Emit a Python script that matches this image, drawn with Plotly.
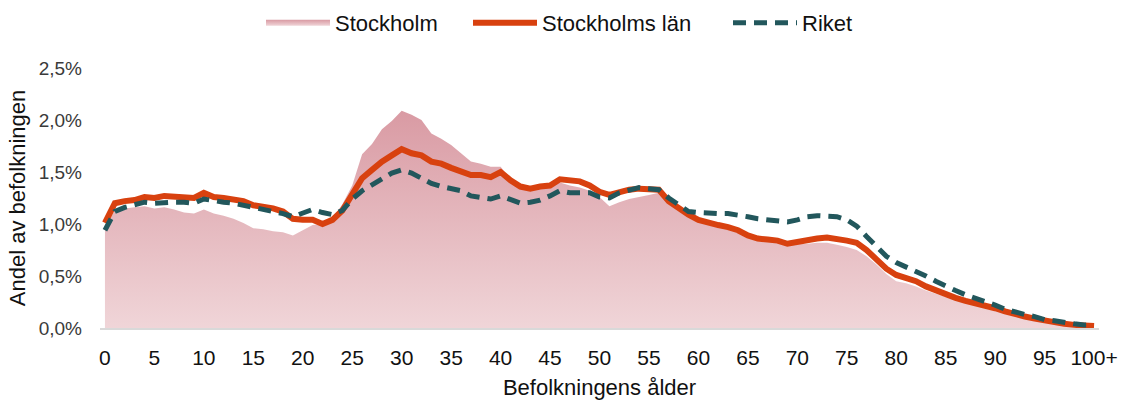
import plotly.graph_objects as go

ages = [str(i) for i in range(100)] + ["100+"]

stockholm = [
    0.98, 1.13, 1.15, 1.16, 1.17, 1.15, 1.16, 1.14, 1.11, 1.10,
    1.14, 1.10, 1.08, 1.05, 1.01, 0.96, 0.95, 0.93, 0.92, 0.89,
    0.94, 0.99, 1.00, 1.05, 1.19, 1.37, 1.67, 1.77, 1.91, 1.99,
    2.09, 2.05, 2.00, 1.87, 1.82, 1.76, 1.68, 1.60, 1.58, 1.55,
    1.55, 1.43, 1.36, 1.35, 1.36, 1.37, 1.40, 1.37, 1.35, 1.32,
    1.26, 1.17, 1.21, 1.24, 1.26, 1.28, 1.30, 1.20, 1.14, 1.07,
    1.02, 0.99, 0.97, 0.95, 0.92, 0.87, 0.84, 0.83, 0.82, 0.79,
    0.81, 0.81, 0.82, 0.82, 0.80, 0.78, 0.75, 0.69, 0.61, 0.52,
    0.45, 0.43, 0.40, 0.36, 0.33, 0.30, 0.27, 0.24, 0.22, 0.20,
    0.17, 0.14, 0.12, 0.10, 0.08, 0.06, 0.05, 0.04, 0.03, 0.02,
    0.02,
]

stockholms_lan = [
    1.01, 1.20, 1.22, 1.23, 1.26, 1.25, 1.27, 1.26, 1.25, 1.25,
    1.30, 1.26, 1.25, 1.23, 1.22, 1.18, 1.17, 1.15, 1.12, 1.05,
    1.04, 1.04, 1.00, 1.04, 1.13, 1.28, 1.44, 1.52, 1.60, 1.66,
    1.72, 1.68, 1.66, 1.60, 1.58, 1.54, 1.51, 1.47, 1.47, 1.45,
    1.50, 1.42, 1.36, 1.34, 1.36, 1.37, 1.43, 1.42, 1.41, 1.37,
    1.31, 1.28, 1.31, 1.33, 1.34, 1.33, 1.33, 1.22, 1.15, 1.09,
    1.04, 1.01, 0.99, 0.97, 0.94, 0.89, 0.86, 0.85, 0.84, 0.81,
    0.83, 0.84, 0.86, 0.87, 0.86, 0.84, 0.82, 0.75, 0.66, 0.57,
    0.51, 0.48, 0.45, 0.40, 0.36, 0.33, 0.29, 0.26, 0.24, 0.22,
    0.19, 0.16, 0.13, 0.11, 0.09, 0.07, 0.05, 0.04, 0.03, 0.02,
    0.02,
]

riket = [
    0.94, 1.12, 1.16, 1.18, 1.21, 1.20, 1.21, 1.21, 1.21, 1.20,
    1.24, 1.22, 1.21, 1.20, 1.18, 1.16, 1.14, 1.13, 1.10, 1.07,
    1.11, 1.14, 1.11, 1.09, 1.13, 1.24, 1.32, 1.38, 1.44, 1.49,
    1.52, 1.49, 1.44, 1.39, 1.36, 1.34, 1.32, 1.27, 1.25, 1.24,
    1.27, 1.23, 1.20, 1.21, 1.23, 1.27, 1.32, 1.30, 1.30, 1.30,
    1.26, 1.25, 1.30, 1.33, 1.35, 1.34, 1.33, 1.25, 1.18, 1.12,
    1.11, 1.10, 1.10, 1.10, 1.09, 1.07, 1.05, 1.04, 1.03, 1.02,
    1.04, 1.07, 1.08, 1.08, 1.07, 1.04, 0.98, 0.88, 0.78, 0.69,
    0.63, 0.59, 0.55, 0.50, 0.45, 0.40, 0.36, 0.32, 0.29, 0.25,
    0.22, 0.18, 0.15, 0.13, 0.11, 0.08, 0.07, 0.05, 0.04, 0.03,
    0.03,
]

y_ticks = [0, 0.5, 1.0, 1.5, 2.0, 2.5]
y_tick_labels = ["0,0%", "0,5%", "1,0%", "1,5%", "2,0%", "2,5%"]

FONT = "Liberation Sans, Arial, Helvetica, sans-serif"

fig = go.Figure()

fig.add_trace(go.Scatter(
    x=ages, y=stockholm, name="Stockholm", mode="none",
    fill="tozeroy",
    fillgradient=dict(type="vertical", start=0, stop=2.1,
                      colorscale=[[0, "#f0d5d8"], [1, "#d99aa3"]]),
    hoverinfo="skip", legend="legend",
))
fig.add_trace(go.Scatter(
    x=ages, y=stockholms_lan, name="Stockholms län", mode="lines",
    line=dict(color="#d8410f", width=6), legend="legend2",
))
fig.add_trace(go.Scatter(
    x=ages, y=riket, name="Riket", mode="lines",
    line=dict(color="#22575c", width=5, dash="13px,8px"), legend="legend3",
))

def leg(xpx):
    return dict(
        orientation="h", xref="container", yref="container",
        x=xpx / 1121, xanchor="left", y=1 - 23 / 400, yanchor="middle",
        font=dict(size=22, color="#111111"), itemwidth=64,
        bgcolor="rgba(0,0,0,0)",
    )

fig.update_layout(
    width=1121, height=400,
    margin=dict(l=100, r=22, t=68, b=72),
    paper_bgcolor="white", plot_bgcolor="white",
    font=dict(family=FONT, color="#111111"),
    showlegend=True,
    legend=leg(261),
    legend2=leg(468),
    legend3=leg(728),
    xaxis=dict(
        type="category", range=[-0.5, 100.5], automargin=False,
        tickmode="linear", tick0=0, dtick=5,
        showgrid=False, zeroline=False,
        showline=True, linecolor="#d9d9d9", linewidth=2,
        ticks="", ticklabelstandoff=10,
        tickfont=dict(size=21, color="#111111"),
        title=dict(text="Befolkningens ålder", font=dict(size=22, color="#111111"), standoff=19),
    ),
    yaxis=dict(
        range=[0, 2.5], automargin=True,
        tickmode="array", tickvals=y_ticks, ticktext=y_tick_labels,
        showgrid=False, zeroline=False, showline=False,
        ticks="", ticklabelstandoff=17,
        tickfont=dict(size=19, color="#3a3a3a"),
        title=dict(text="Andel av befolkningen", font=dict(size=22, color="#111111"), standoff=6),
    ),
)

fig.write_html(
    "out.html",
    config={"displayModeBar": False},
    post_script="document.body.style.margin='0';",
)
